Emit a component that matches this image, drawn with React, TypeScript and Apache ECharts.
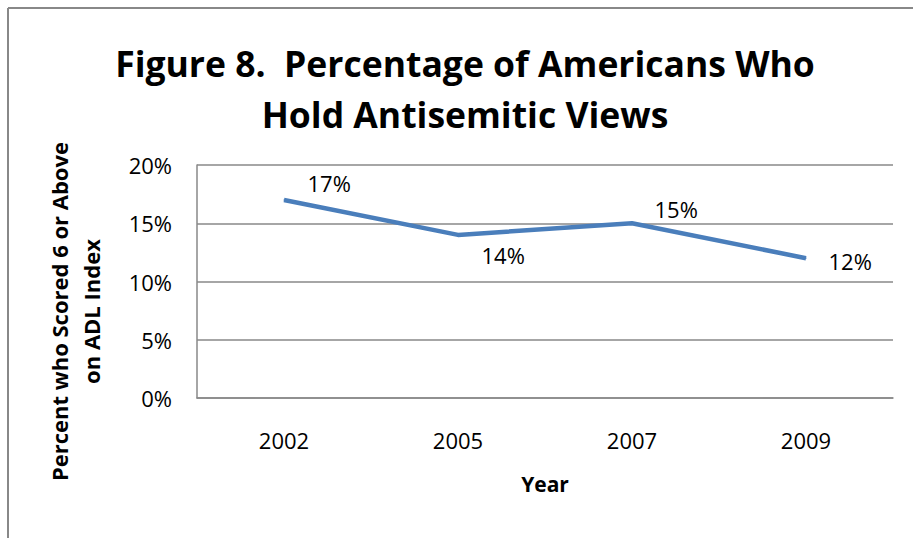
import React, { useEffect, useRef } from "react";
import * as echarts from "echarts";

const years = ["2002", "2005", "2007", "2009"];
const percentHolding = [17, 14, 15, 12];
const labelOffsets: [number, number][] = [
  [23, -17],
  [23, 20],
  [22, -14],
  [22, 3],
];
const yTicks = [0, 5, 10, 15, 20];

const FONT = "Open Sans";

export default function App() {
  const ref = useRef<HTMLDivElement>(null);
  useEffect(() => {
    const chart = echarts.init(ref.current!, null, { renderer: "svg" });
    chart.setOption({
      animation: false,
      backgroundColor: "#ffffff",
      title: {
        text: "Figure 8.  Percentage of Americans Who\nHold Antisemitic Views",
        left: 460,
        textAlign: "center",
        top: 32,
        textStyle: {
          fontFamily: FONT,
          fontWeight: "bold",
          fontSize: 35.5,
          lineHeight: 51,
          color: "#000",
        },
      },
      graphic: [
        {
          type: "line",
          shape: { x1: 8, y1: 8, x2: 913, y2: 8 },
          style: { stroke: "#888888", lineWidth: 2 },
        },
        {
          type: "line",
          shape: { x1: 8, y1: 8, x2: 8, y2: 538 },
          style: { stroke: "#888888", lineWidth: 2 },
        },
      ],
      grid: { left: 197, top: 165, right: 20, bottom: 140 },
      xAxis: {
        type: "category",
        data: years,
        boundaryGap: true,
        name: "Year",
        nameLocation: "middle",
        nameGap: 75,
        nameTextStyle: {
          fontFamily: FONT,
          fontWeight: "bold",
          fontSize: 21,
          color: "#000",
        },
        axisLine: { show: true, lineStyle: { color: "#888888", width: 1.5 } },
        axisTick: { show: false },
        axisLabel: {
          fontFamily: FONT,
          fontSize: 22,
          color: "#000",
          margin: 31,
        },
      },
      yAxis: {
        type: "value",
        min: 0,
        max: 20,
        interval: 5,
        name: "Percent who Scored 6 or Above\non ADL Index",
        nameLocation: "middle",
        nameGap: 90,
        nameTextStyle: {
          fontFamily: FONT,
          fontWeight: "bold",
          fontSize: 22,
          lineHeight: 32,
          color: "#000",
          padding: [0, 60, 0, 0],
        },
        axisLine: { show: true, lineStyle: { color: "#888888", width: 1.5 } },
        axisTick: { show: false },
        splitLine: { show: true, lineStyle: { color: "#888888", width: 1.5 } },
        axisLabel: {
          fontFamily: FONT,
          fontSize: 22,
          color: "#000",
          margin: 25,
          formatter: (v: number) => (yTicks.includes(v) ? v + "%" : ""),
        },
      },
      series: [
        {
          type: "line",
          data: percentHolding.map((v, i) => ({
            value: v,
            label: { offset: labelOffsets[i] },
          })),
          symbol: "circle",
          symbolSize: 1,
          showSymbol: true,
          lineStyle: { color: "#4a7ebb", width: 4.5 },
          itemStyle: { color: "#4a7ebb" },
          label: {
            show: true,
            position: "right",
            distance: 0,
            fontFamily: FONT,
            fontSize: 22,
            color: "#000",
            formatter: (p: any) => p.value + "%",
          },
        },
      ],
    });
    return () => chart.dispose();
  }, []);
  return (
    <div
      ref={ref}
      style={{ position: "fixed", left: 0, top: 0, width: 913, height: 538 }}
    />
  );
}
